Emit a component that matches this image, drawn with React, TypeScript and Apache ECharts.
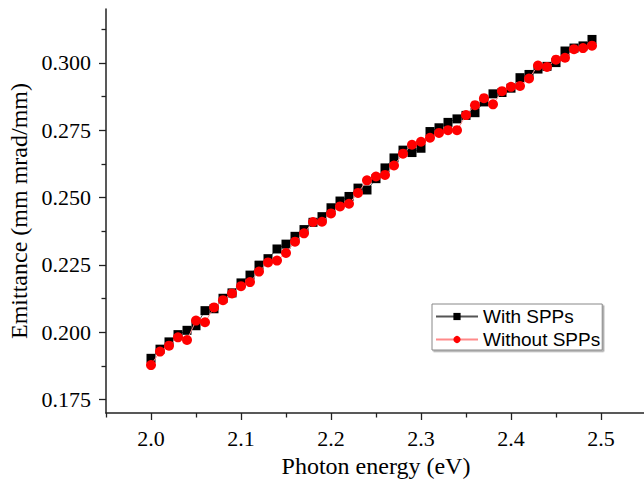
import React, { useEffect, useRef } from "react";
import * as echarts from "echarts";

const photonEnergy = [
  2.0, 2.01, 2.02, 2.03, 2.04, 2.05, 2.06, 2.07, 2.08, 2.09,
  2.1, 2.11, 2.12, 2.13, 2.14, 2.15, 2.16, 2.17, 2.18, 2.19,
  2.2, 2.21, 2.22, 2.23, 2.24, 2.25, 2.26, 2.27, 2.28, 2.29,
  2.3, 2.31, 2.32, 2.33, 2.34, 2.35, 2.36, 2.37, 2.38, 2.39,
  2.4, 2.41, 2.42, 2.43, 2.44, 2.45, 2.46, 2.47, 2.48, 2.49,
];

const withSPPs = [
  0.1903, 0.1937, 0.1964, 0.1991, 0.2007, 0.2024, 0.208, 0.2087, 0.2126, 0.2146,
  0.2183, 0.2212, 0.2249, 0.2273, 0.2309, 0.2327, 0.2356, 0.2381, 0.2408, 0.2429,
  0.2462, 0.2487, 0.2504, 0.2535, 0.2528, 0.257, 0.261, 0.2647, 0.2676, 0.2667,
  0.2683, 0.2745, 0.2759, 0.2779, 0.2792, 0.2805, 0.2815, 0.2855, 0.2885, 0.289,
  0.2906, 0.2945, 0.2957, 0.2977, 0.2987, 0.3001, 0.3044, 0.3055, 0.3063, 0.3087,
];

const withoutSPPs = [
  0.1878, 0.1928, 0.195, 0.1981, 0.1971, 0.2043, 0.2037, 0.2092, 0.2119, 0.2144,
  0.2171, 0.2186, 0.2225, 0.2259, 0.2266, 0.2294, 0.2336, 0.2367, 0.2409, 0.241,
  0.2441, 0.2467, 0.2477, 0.2517, 0.2564, 0.2578, 0.2584, 0.2619, 0.2663, 0.2696,
  0.2707, 0.2722, 0.274, 0.275, 0.275, 0.2806, 0.2843, 0.2869, 0.2846, 0.2895,
  0.2911, 0.2914, 0.2942, 0.299, 0.2985, 0.3012, 0.3019, 0.3051, 0.3055, 0.3064,
];

const xMajorTicks = [2.0, 2.1, 2.2, 2.3, 2.4, 2.5];
const xMinorTicks = [1.95, 2.05, 2.15, 2.25, 2.35, 2.45, 2.55];
const yMajorTicks = [0.175, 0.2, 0.225, 0.25, 0.275, 0.3];
const yMinorTicks = [0.1875, 0.2125, 0.2375, 0.2625, 0.2875, 0.3125];

const serif = "'Liberation Serif', 'Times New Roman', serif";
const sans = "'Liberation Sans', Arial, sans-serif";

export default function App() {
  const ref = useRef<HTMLDivElement>(null);

  useEffect(() => {
    if (!ref.current) return;
    const chart = echarts.init(ref.current, undefined, { renderer: "svg" });
    const axisLineStyle = { color: "#222", width: 1.5 };
    const tickLine = { color: "#222", width: 1.3 };
    chart.setOption({
      animation: false,
      backgroundColor: "#fff",
      grid: {
        left: 106,
        top: 9,
        width: 540,
        height: 404,
        containLabel: false,
        outerBoundsMode: "none",
      },
      xAxis: [
        {
          type: "value",
          min: 1.95,
          max: 2.55,
          position: "bottom",
          name: "Photon energy (eV)",
          nameLocation: "middle",
          nameGap: 38,
          nameTextStyle: { fontFamily: serif, fontSize: 24, color: "#000" },
          axisLine: { show: true, lineStyle: axisLineStyle },
          axisTick: {
            show: true,
            customValues: xMajorTicks,
            length: 7,
            lineStyle: tickLine,
          },
          axisLabel: {
            customValues: xMajorTicks,
            formatter: (v: number) => v.toFixed(1),
            fontFamily: serif,
            fontSize: 22,
            color: "#000",
            margin: 14,
          },
          splitLine: { show: false },
        },
        {
          type: "value",
          min: 1.95,
          max: 2.55,
          position: "bottom",
          axisLine: { show: false },
          axisTick: {
            show: true,
            customValues: xMinorTicks,
            length: 4.5,
            lineStyle: tickLine,
          },
          axisLabel: { show: false },
          splitLine: { show: false },
        },
      ],
      yAxis: [
        {
          type: "value",
          min: 0.17,
          max: 0.32,
          position: "left",
          name: "Emittance (mm mrad/mm)",
          nameLocation: "middle",
          nameGap: 73,
          nameTextStyle: { fontFamily: serif, fontSize: 24, color: "#000" },
          axisLine: { show: true, lineStyle: axisLineStyle },
          axisTick: {
            show: true,
            customValues: yMajorTicks,
            length: 7,
            lineStyle: tickLine,
          },
          axisLabel: {
            customValues: yMajorTicks,
            formatter: (v: number) => v.toFixed(3),
            fontFamily: serif,
            fontSize: 22,
            color: "#000",
            margin: 15,
          },
          splitLine: { show: false },
        },
        {
          type: "value",
          min: 0.17,
          max: 0.32,
          position: "left",
          axisLine: { show: false },
          axisTick: {
            show: true,
            customValues: yMinorTicks,
            length: 4.5,
            lineStyle: tickLine,
          },
          axisLabel: { show: false },
          splitLine: { show: false },
        },
      ],
      legend: {
        left: 432,
        top: 304,
        orient: "vertical",
        itemWidth: 42,
        itemHeight: 9,
        itemGap: 4,
        padding: [3, 2, 1, 3],
        borderColor: "#888",
        borderWidth: 1,
        shadowColor: "rgba(0,0,0,0.35)",
        shadowBlur: 1,
        shadowOffsetX: 1.5,
        shadowOffsetY: 1.5,
        backgroundColor: "#fff",
        textStyle: { fontFamily: sans, fontSize: 19, color: "#000" },
        data: ["With SPPs", "Without SPPs"],
      },
      series: [
        {
          name: "With SPPs",
          type: "line",
          xAxisIndex: 0,
          yAxisIndex: 0,
          data: photonEnergy.map((x, i) => [x, withSPPs[i]]),
          symbol: "rect",
          symbolSize: 9,
          itemStyle: { color: "#000" },
          lineStyle: { color: "#555", width: 1 },
          z: 2,
        },
        {
          name: "Without SPPs",
          type: "line",
          xAxisIndex: 0,
          yAxisIndex: 0,
          data: photonEnergy.map((x, i) => [x, withoutSPPs[i]]),
          symbol: "circle",
          symbolSize: 10,
          itemStyle: { color: "#ff0000" },
          lineStyle: { color: "#ff8a8a", width: 1 },
          z: 3,
        },
      ],
    });
    return () => chart.dispose();
  }, []);

  return (
    <div
      ref={ref}
      style={{ position: "fixed", left: 0, top: 0, width: 644, height: 483 }}
    />
  );
}
